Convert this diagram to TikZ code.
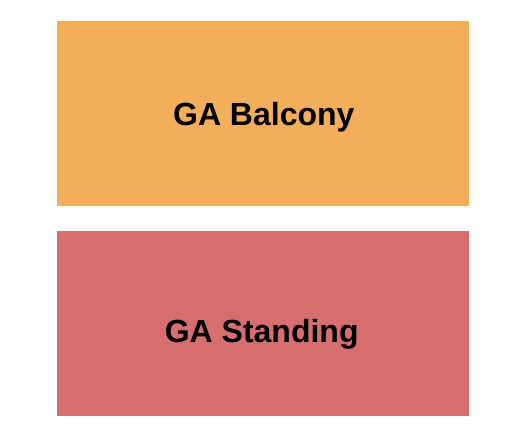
\documentclass[tikz,border=0pt]{standalone}
\usepackage{fontspec}
\setmainfont{Liberation Sans}
\usepackage{tikz}
\usetikzlibrary{positioning}
\definecolor{balconyc}{HTML}{F2AE5A}
\definecolor{standingc}{HTML}{D76E6E}

\begin{document}
\begin{tikzpicture}[
  x=1pt, y=-1pt,
  section/.style={rectangle, inner sep=0pt, minimum width=412pt, minimum height=185pt},
  seclabel/.style={inner sep=0pt, anchor=base, font=\fontsize{32}{36}\selectfont\bfseries, text=black}
]

% page frame
\useasboundingbox (0,0) rectangle (525,444);

% sections
\node[section, fill=balconyc, anchor=north west] (Balcony) at (57,21) {};
\node[section, fill=standingc, below=24pt of Balcony] (Standing) {};

% labels
\node[seclabel] (BalconyLbl) at (263.8,125) {GA Balcony};
\node[seclabel] (StandingLbl) at (261.7,342.7) {GA Standing};

\end{tikzpicture}
\end{document}
